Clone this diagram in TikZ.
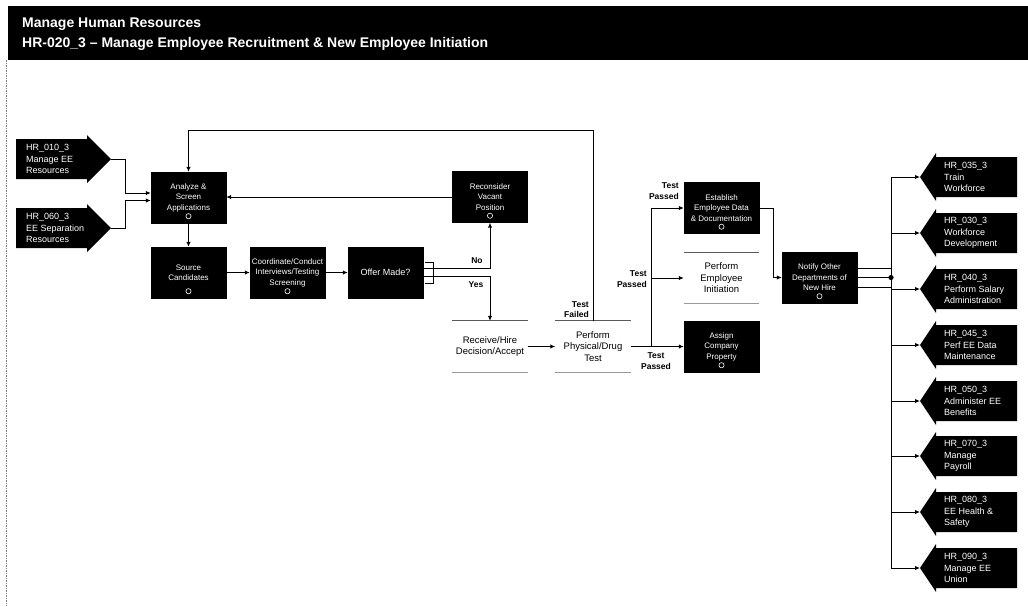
\documentclass[tikz,border=0pt]{standalone}
\usepackage{fontspec}
\setmainfont{Liberation Sans}
\usetikzlibrary{arrows.meta,calc}

% black process box with its small loop glyph at the bottom
\newcommand\taskbox[3]{%
  \node[task] (#1) at (#2) {#3};
  \draw[white,line width=.6pt] ([yshift=7pt]#1.south) circle (2.6pt);}
% open "lane" step: only a top and a bottom rule
\newcommand\lanebox[3]{%
  \node[lane] (#1) at (#2) {#3};
  \draw[gray!70!black,line width=1.1pt] (#1.north west) -- (#1.north east);
  \draw[gray!80,line width=.6pt] (#1.south west) -- (#1.south east);}

\begin{document}
\begin{tikzpicture}[x=1pt,y=-1pt,
  flow/.style={line width=1pt,-{Latex[length=5pt,width=4.5pt]}},
  link/.style={line width=1pt},
  task/.style={fill=black,draw=black,minimum width=75pt,minimum height=51pt,inner sep=1pt,
    align=center,text=white,font=\fontsize{8}{10.5}\selectfont},
  lane/.style={minimum width=75pt,minimum height=51pt,inner sep=1pt,align=center,
    font=\fontsize{9.5}{11.5}\selectfont},
  cond/.style={font=\bfseries\fontsize{8.5}{10.5}\selectfont,inner sep=0pt},
  extlabel/.style={text=white,align=left,anchor=west,inner sep=0pt,
    font=\fontsize{9}{11.5}\selectfont},
  title/.style={text=white,anchor=base west,inner sep=0pt,font=\bfseries\fontsize{14}{16}\selectfont},
]
\useasboundingbox (0,0) rectangle (1028,606);
\fill[white] (0,0) rectangle (1028,606);

% title band
\fill[black] (8,6) rectangle (1028,60);
\node[title] (t1) at (22,27) {Manage Human Resources};
\node[title] (t2) at (22,47) {HR-020\_3 -- Manage Employee Recruitment \& New Employee Initiation};

% page margin rule
\draw[gray,line width=.8pt,dash pattern=on 1.5pt off 1pt] (6,60) -- (6,606);

% incoming processes
\foreach \c/\nm/\txt in {159/ina/{HR\_010\_3\\Manage EE\\Resources},
                          228/inb/{HR\_060\_3\\EE Separation\\Resources}}{
  \fill[black] (16,\c-20) -- (87,\c-20) -- (87,\c-24) -- (111,\c) -- (87,\c+24)
     -- (87,\c+20) -- (16,\c+20) -- cycle;
  \coordinate (\nm) at (111,\c);
  \node[extlabel] (\nm-t) at (26,\c) {\txt};
}

% recruitment steps
\taskbox{analyze}{188.5,197.5}{Analyze \&\\Screen\\Applications}
\taskbox{source}{188.5,272.5}{Source\\Candidates}
\taskbox{conduct}{287.5,272.5}{Coordinate/Conduct\\Interviews/Testing\\Screening}
\node[task] (offer) at (385.5,272.5) {\fontsize{9}{11}\selectfont Offer Made?};
\taskbox{recon}{490,197}{Reconsider\\Vacant\\Position}
\lanebox{receive}{490,346.5}{Receive/Hire\\Decision/Accept}
\lanebox{physical}{593,346.5}{Perform\\Physical/Drug\\Test}

% initiation steps
\taskbox{records}{721.5,208}{Establish\\Employee Data\\\& Documentation}
\lanebox{initiate}{721.5,278}{Perform\\Employee\\Initiation}
\taskbox{property}{721.5,346.5}{Assign\\Company\\Property}
\taskbox{notify}{819.5,277.5}{Notify Other\\Departments of\\New Hire}

% inputs into screening
\draw[flow] (ina) -- (125,159) |- ([yshift=4.5pt]analyze.west);
\draw[flow] (inb) -- (125,228) |- ([yshift=-3pt]analyze.west);

% failed test loops back to screening
\coordinate (loop) at (593,130);
\draw[flow] (physical.north) -- (loop) -| (analyze.north);
\node[cond,align=right,anchor=south east] (failed) at (589,318) {Test\\Failed};

\draw[flow] (recon.west) -- (recon.west -| analyze.east);
\draw[flow] (analyze.south) -- (source.north);
\draw[flow] (source.east) -- (conduct.west);
\draw[flow] (conduct.east) -- (offer.west);

% offer decision
\draw[line width=1pt] (425,262) -- (433,262) -- (433,283) -- (425,283);
\coordinate (nobr) at (recon.south |- 0,268);
\coordinate (yesbr) at (receive.north |- 0,276);
\draw[flow] ([yshift=4.5pt]offer.east) -- (nobr) -- (recon.south);
\draw[flow] ([yshift=-3.5pt]offer.east) -- (yesbr) -- (receive.north);
\node[cond] (no) at (477,261) {No};
\node[cond] (yes) at (476,285) {Yes};

\draw[flow] (receive.east) -- (physical.west);

% passed test fans out
\coordinate (split) at (651,346.5);
\draw[link] (physical.east) -- (split);
\draw[flow] (split) |- (records.west);
\draw[flow] (split |- initiate.west) -- (initiate.west);
\draw[flow] (split) -- (property.west);
\node[cond,align=right,anchor=east] (p1) at (679,191) {Test\\Passed};
\node[cond,align=right,anchor=east] (p2) at (647,279) {Test\\Passed};
\node[cond,align=center] (p3) at (656,361) {Test\\Passed};

\draw[flow] (records.east) -- (773,208) |- (notify.west);

% outgoing processes
\coordinate (busTop) at (891,177);
\coordinate (busBot) at (891,568);
\draw[link] (busTop) -- (busBot);
\draw[link] ([yshift=9.5pt]notify.east) -- ([yshift=9.5pt]notify.east -| busTop);
\draw[link] (notify.east) -- (notify.east -| busTop);
\draw[link] ([yshift=-9.5pt]notify.east) -- ([yshift=-9.5pt]notify.east -| busTop);
\fill (notify.east -| busTop) circle (2.6pt);

\foreach \c/\nm/\txt in {177/hra/{HR\_035\_3\\Train\\Workforce},
                          233/hrb/{HR\_030\_3\\Workforce\\Development},
                          289/hrc/{HR\_040\_3\\Perform Salary\\Administration},
                          345/hrd/{HR\_045\_3\\Perf EE Data\\Maintenance},
                          401/hre/{HR\_050\_3\\Administer EE\\Benefits},
                          456/hrf/{HR\_070\_3\\Manage\\Payroll},
                          512/hrg/{HR\_080\_3\\EE Health \&\\Safety},
                          568/hrh/{HR\_090\_3\\Manage EE\\Union}}{
  \fill[black] (920,\c) -- (936,\c-24) -- (936,\c-20) -- (1017,\c-20) -- (1017,\c+20)
     -- (936,\c+20) -- (936,\c+24) -- cycle;
  \coordinate (\nm) at (920,\c);
  \node[extlabel] (\nm-t) at (944,\c) {\txt};
  \draw[flow] (busTop |- \nm) -- (\nm);
}
\end{tikzpicture}
\end{document}
